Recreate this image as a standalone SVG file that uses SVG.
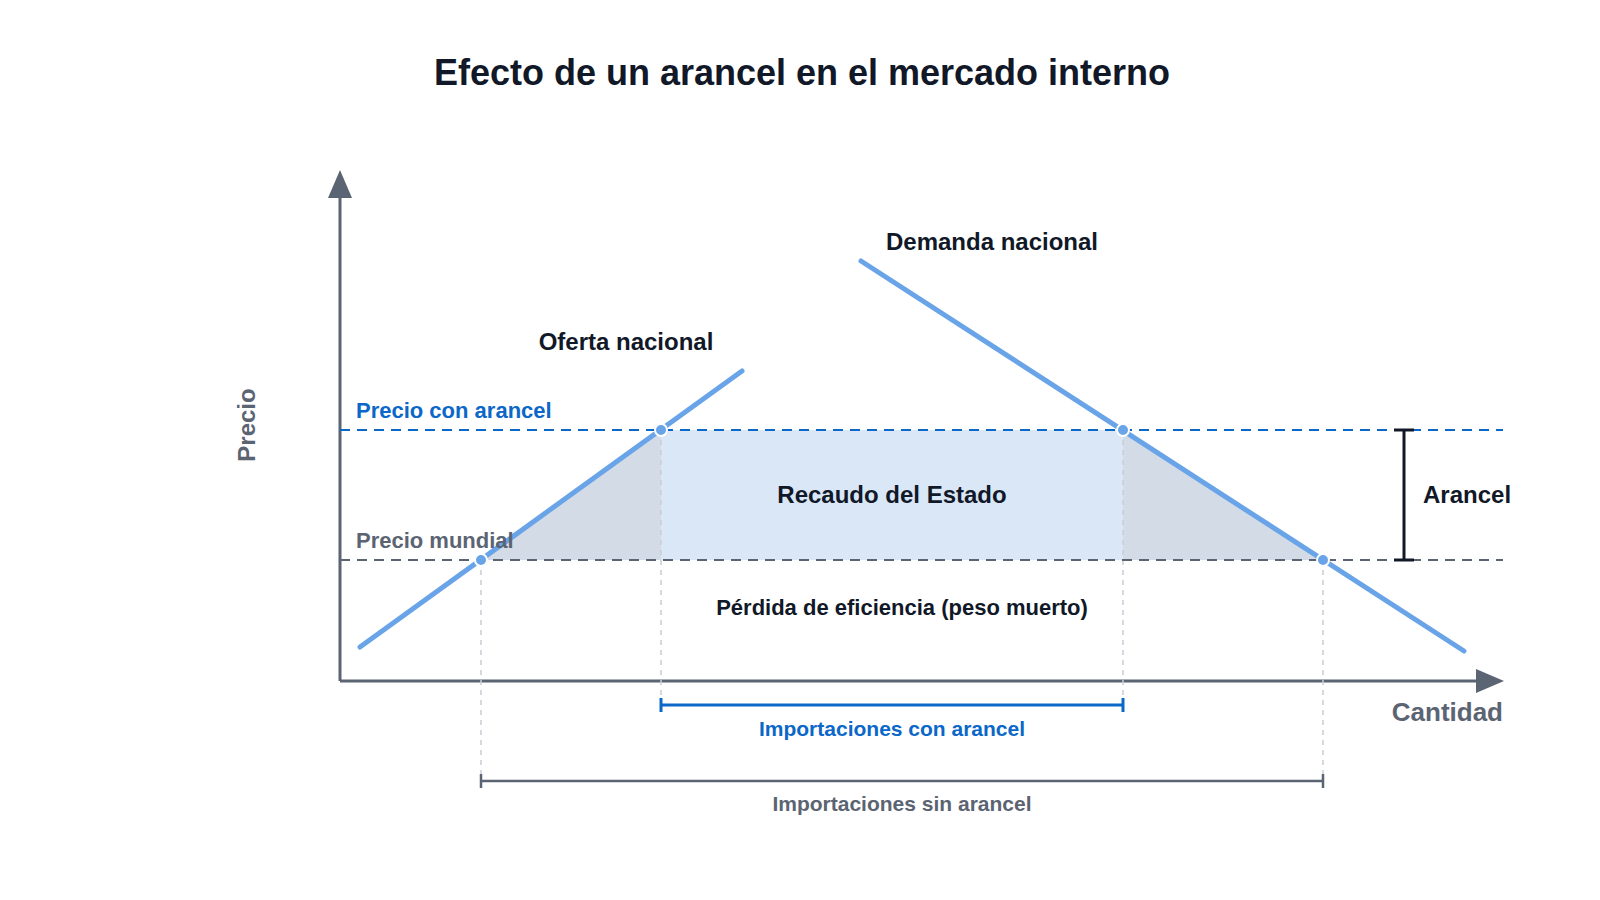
<svg xmlns="http://www.w3.org/2000/svg" width="1600" height="900" viewBox="0 0 1600 900">
<style>
text{font-family:"Liberation Sans",Arial,sans-serif;font-weight:bold}
.dark{fill:#111827}
.gray{fill:#5b6472}
.blue{fill:#0b67c8}
.curve{stroke:#6aa4e8;stroke-width:5;stroke-linecap:round;fill:none}
.pt{fill:#6aa4e8;stroke:#fff;stroke-width:2}
.guide{stroke:#c9ced6;stroke-width:1.5;stroke-dasharray:5 5}
</style>
<defs>
<marker id="ah" markerWidth="10" markerHeight="10" refX="5" refY="5" orient="auto" markerUnits="userSpaceOnUse" viewBox="0 0 10 10"><path d="M0,0 L10,5 L0,10 z" fill="#5b6472"/></marker>
</defs>
<rect width="1600" height="900" fill="#fff"/>
<text x="802" y="85" text-anchor="middle" font-size="36" class="dark">Efecto de un arancel en el mercado interno</text>
<g id="areas">
<polygon points="481,560 661,430 661,560" fill="#d3dbe6"/>
<rect x="661" y="430" width="462" height="130" fill="#d9e7f7"/>
<polygon points="1123,430 1323,560 1123,560" fill="#d3dbe6"/>
</g>
<g id="axes">
<line x1="340" y1="681" x2="340" y2="196" stroke="#5b6472" stroke-width="3"/>
<path d="M328,198 L340,170 L352,198 z" fill="#5b6472"/>
<line x1="340" y1="681" x2="1478" y2="681" stroke="#5b6472" stroke-width="3"/>
<path d="M1476,669 L1504,681 L1476,693 z" fill="#5b6472"/>
<text x="255" y="425" text-anchor="middle" font-size="24" class="gray" transform="rotate(-90 255 425)">Precio</text>
<text x="1503" y="721" text-anchor="end" font-size="26" class="gray">Cantidad</text>
</g>
<g id="connectors">
<line x1="481" y1="560" x2="481" y2="781" class="guide"/>
<line x1="1323" y1="560" x2="1323" y2="781" class="guide"/>
<line x1="661" y1="430" x2="661" y2="705" class="guide"/>
<line x1="1123" y1="430" x2="1123" y2="705" class="guide"/>
<line x1="340" y1="430" x2="1503" y2="430" stroke="#0b67c8" stroke-width="2" stroke-dasharray="10 7"/>
<line x1="340" y1="560" x2="1503" y2="560" stroke="#5b6472" stroke-width="2" stroke-dasharray="10 7"/>
<line x1="360" y1="647" x2="742" y2="371" class="curve"/>
<line x1="861" y1="261" x2="1464" y2="651" class="curve"/>
<g stroke="#0b67c8" stroke-width="3"><line x1="661" y1="705" x2="1123" y2="705"/><line x1="661" y1="698" x2="661" y2="712"/><line x1="1123" y1="698" x2="1123" y2="712"/></g>
<g stroke="#5b6472" stroke-width="2.5"><line x1="481" y1="781" x2="1323" y2="781"/><line x1="481" y1="774" x2="481" y2="788"/><line x1="1323" y1="774" x2="1323" y2="788"/></g>
<g stroke="#111827" stroke-width="3"><line x1="1404" y1="430" x2="1404" y2="560"/><line x1="1394" y1="430" x2="1414" y2="430"/><line x1="1394" y1="560" x2="1414" y2="560"/></g>
</g>
<g id="points">
<circle cx="481" cy="560" r="6" class="pt"/>
<circle cx="661" cy="430" r="6" class="pt"/>
<circle cx="1123" cy="430" r="6" class="pt"/>
<circle cx="1323" cy="560" r="6" class="pt"/>
</g>
<g id="labels">
<text x="356" y="418" font-size="22" class="blue">Precio con arancel</text>
<text x="356" y="548" font-size="22" class="gray">Precio mundial</text>
<text x="626" y="350" text-anchor="middle" font-size="24" class="dark">Oferta nacional</text>
<text x="992" y="250" text-anchor="middle" font-size="24" class="dark">Demanda nacional</text>
<text x="892" y="503" text-anchor="middle" font-size="24" class="dark">Recaudo del Estado</text>
<text x="902" y="615" text-anchor="middle" font-size="22" class="dark">Pérdida de eficiencia (peso muerto)</text>
<text x="1423" y="503" font-size="24" class="dark">Arancel</text>
<text x="892" y="736" text-anchor="middle" font-size="21" class="blue">Importaciones con arancel</text>
<text x="902" y="811" text-anchor="middle" font-size="21" class="gray">Importaciones sin arancel</text>
</g>
</svg>
